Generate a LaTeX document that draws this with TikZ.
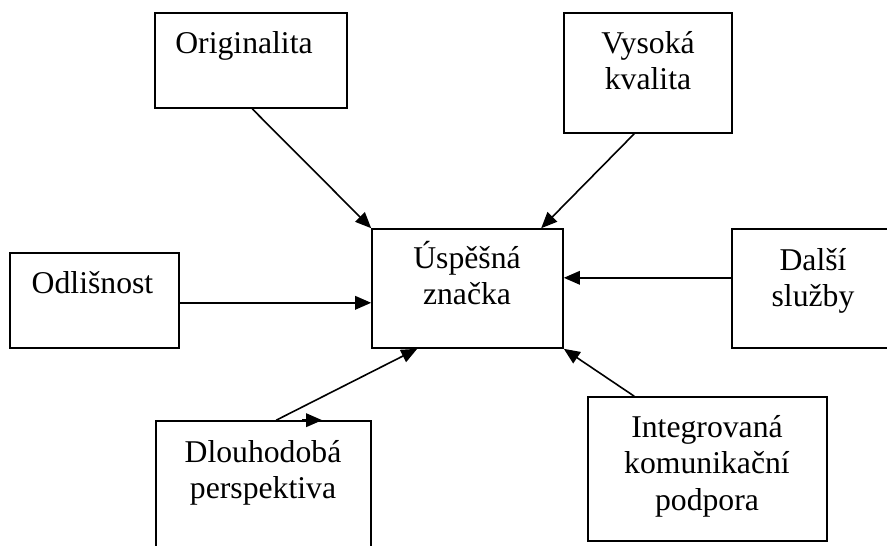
\documentclass[tikz,border=0pt]{standalone}
\usepackage{fontspec}
\setmainfont{Liberation Serif}
\usetikzlibrary{arrows.meta,calc}
\begin{document}
\begin{tikzpicture}[x=1pt,y=-1pt,
  box/.style={draw=black,line width=1.6pt,rectangle,inner sep=0pt},
  lbl/.style={font=\fontsize{31.7}{36.5}\selectfont,align=center,anchor=base,inner sep=0pt},
  conn/.style={draw=black,line width=1.6pt,-{Triangle[length=16pt,width=13.5pt]}}]
\useasboundingbox (0,0) rectangle (887,546);
% boxes
\node[box,minimum width=192pt,minimum height=95pt] (orig) at (251,60.5) {};
\node[box,minimum width=168pt,minimum height=120pt] (vys) at (648,73) {};
\node[box,minimum width=169pt,minimum height=95pt] (odl) at (94.5,300.5) {};
\node[box,minimum width=191pt,minimum height=119pt] (usp) at (467.5,288.5) {};
\node[box,minimum width=170pt,minimum height=119pt] (dal) at (817,288.5) {};
\node[box,minimum width=215pt,minimum height=150pt] (dlo) at (263.5,496) {};
\node[box,minimum width=239pt,minimum height=144pt] (int) at (707.5,469) {};
% labels (anchor = baseline of the last line)
\node[lbl] (orig-t) at (244,53) {Originalita};
\node[lbl] (vys-t) at (648,89.5) {Vysoká\\kvalita};
\node[lbl] (odl-t) at (92.5,293) {Odlišnost};
\node[lbl] (usp-t) at (467,304.5) {Úspěšná\\značka};
\node[lbl] (dal-t) at (813,306.5) {Další\\služby};
\node[lbl] (dlo-t) at (263,498.5) {Dlouhodobá\\perspektiva};
\node[lbl] (int-t) at (707,510) {Integrovaná\\komunikační\\podpora};
% connectors
\draw[conn] ($(orig.south west)+(98,0)$) -- (usp.north west);
\draw[conn] ($(vys.south west)+(71,0)$) -- ($(usp.north west)+(170,0)$);
\draw[conn] ($(odl.south east)+(0,-46)$) -- ($(usp.south west)+(0,-46)$);
\draw[conn] ($(dal.south west)+(0,-71)$) -- ($(usp.south east)+(0,-71)$);
\draw[conn] ($(dlo.north west)+(121,0)$) -- ($(usp.south west)+(46,0)$);
\coordinate (stray) at ($(dlo.north west)+(167,0)$);
\draw[conn] ($(stray)+(-20,0)$) -- (stray);
\draw[conn] ($(int.north west)+(47,0)$) -- (usp.south east);
\end{tikzpicture}
\end{document}
